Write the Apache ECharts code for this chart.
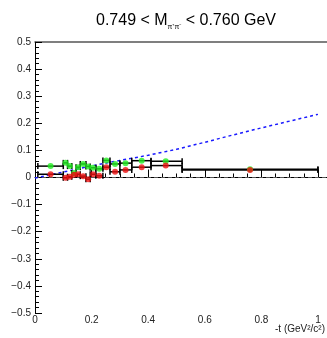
<!DOCTYPE html>
<html><head><meta charset="utf-8">
<script src="https://cdn.jsdelivr.net/npm/echarts/dist/echarts.min.js"></script>
<style>html,body{margin:0;padding:0;background:#fff}#c{width:327px;height:338px}</style>
</head><body><div id="c"></div>
<script>
// bins of -t
const binLo = [0.01, 0.1, 0.115, 0.13, 0.145, 0.16, 0.18, 0.195, 0.215, 0.24, 0.265, 0.3, 0.342, 0.41, 0.52];
const binHi = [0.1, 0.115, 0.13, 0.145, 0.16, 0.18, 0.195, 0.215, 0.24, 0.265, 0.3, 0.342, 0.41, 0.52, 1.0];
const tCenter = [0.055, 0.108, 0.123, 0.138, 0.152, 0.17, 0.188, 0.205, 0.227, 0.252, 0.283, 0.32, 0.377, 0.462, 0.76];
const greenVals = [0.042, 0.054, 0.042, 0.017, 0.038, 0.05, 0.041, 0.036, 0.032, 0.063, 0.05, 0.053, 0.062, 0.06, 0.03];
const redVals = [0.012, -0.001, 0.003, 0.01, 0.012, 0.005, -0.006, 0.012, 0.006, 0.038, 0.021, 0.028, 0.038, 0.044, 0.028];
// model curve (blue dashed)
const curveT = [0, 0.1, 0.2, 0.3, 0.4, 0.5, 0.6, 0.7, 0.8, 0.9, 1.0];
const curveV = [-0.002, 0.02, 0.043, 0.063, 0.082, 0.104, 0.13, 0.157, 0.183, 0.208, 0.233];
const xTicks = [0, 0.2, 0.4, 0.6, 0.8, 1];
const yTicks = [-0.5, -0.4, -0.3, -0.2, -0.1, 0, 0.1, 0.2, 0.3, 0.4, 0.5];
const xMin = 0, xMax = 1.032, yMin = -0.5, yMax = 0.5;

const chart = echarts.init(document.getElementById('c'), null, {renderer: 'canvas'});
const font = 'Liberation Sans, Arial, sans-serif';

function errData(vals) {
  return vals.map((v, i) => [binLo[i], binHi[i], v]);
}
function renderErr(params, api) {
  const a = api.coord([api.value(0), api.value(2)]);
  const b = api.coord([api.value(1), api.value(2)]);
  const st = {stroke: '#000', lineWidth: 1.5};
  return {type: 'group', children: [
    {type: 'line', shape: {x1: a[0], y1: a[1], x2: b[0], y2: b[1]}, style: st},
    {type: 'line', shape: {x1: a[0], y1: a[1] - 3, x2: a[0], y2: a[1] + 3}, style: st},
    {type: 'line', shape: {x1: b[0], y1: b[1] - 3, x2: b[0], y2: b[1] + 3}, style: st}
  ]};
}

const fmt = v => {
  const r = Math.round(v * 10) / 10;
  if (Math.abs(r) < 1e-9) return '0';
  return (r < 0 ? '\u2212' : '') + String(Math.abs(r));
};

chart.setOption({
  animation: false,
  title: {
    text: '0.749 < M{sub|\u03c0\u207a\u03c0\u207b} < 0.760 GeV',
    left: 181, top: 6, textAlign: 'center',
    textStyle: {fontFamily: font, fontSize: 16, fontWeight: 'normal', color: '#000',
      rich: {sub: {fontFamily: font, fontSize: 7, color: '#000', padding: [13, 0, 0, 0]}}}
  },
  grid: {left: 35, top: 42, right: 0, bottom: 25},
  xAxis: [{
    type: 'value', min: xMin, max: xMax, interval: 0.2,
    axisLine: {lineStyle: {color: '#000', width: 1}},
    axisTick: {inside: true, length: 8, lineStyle: {color: '#000'}},
    minorTick: {show: true, splitNumber: 4, length: 4, lineStyle: {color: '#000'}},
    splitLine: {show: false},
    axisLabel: {showMaxLabel: false, margin: 2, fontFamily: font, fontSize: 10, color: '#222',
      formatter: v => xTicks.some(t => Math.abs(t - v) < 1e-6) ? String(Math.round(v * 10) / 10) : ''}
  }, {
    type: 'value', min: xMin, max: xMax, position: 'top',
    axisLine: {show: true, lineStyle: {color: '#555', width: 1.5}},
    axisTick: {show: false}, axisLabel: {show: false}, splitLine: {show: false}
  }],
  yAxis: {
    type: 'value', min: yMin, max: yMax, interval: 0.1,
    axisLine: {show: true, lineStyle: {color: '#000', width: 1}},
    axisTick: {inside: true, length: 7, lineStyle: {color: '#000'}},
    minorTick: {show: true, splitNumber: 5, length: 4, lineStyle: {color: '#000'}},
    splitLine: {show: false},
    axisLabel: {margin: 4, fontFamily: font, fontSize: 10, color: '#222',
      formatter: v => yTicks.some(t => Math.abs(t - v) < 1e-6) ? fmt(v) : ''}
  },
  graphic: [{
    type: 'text', right: 2, top: 324,
    style: {text: '-t (GeV\u00b2/c\u00b2)', font: '10px ' + font, fill: '#222'}
  }],
  series: [
    {type: 'line', data: [[xMin, 0], [xMax, 0]], symbol: 'none', silent: true,
      lineStyle: {color: '#555', width: 1, type: [4, 3]}, z: 1},
    {type: 'line', data: curveT.map((t, i) => [t, curveV[i]]), symbol: 'none', smooth: false,
      lineStyle: {color: '#1a1aff', width: 1.5, type: [3, 3]}, z: 2},
    {type: 'custom', data: errData(greenVals), renderItem: renderErr, z: 3},
    {type: 'custom', data: errData(redVals), renderItem: renderErr, z: 3},
    {type: 'scatter', data: tCenter.map((t, i) => [t, greenVals[i]]), symbol: 'circle', symbolSize: 6,
      itemStyle: {color: '#22ee22'}, z: 5},
    {type: 'scatter', data: tCenter.map((t, i) => [t, redVals[i]]), symbol: 'circle', symbolSize: 6,
      itemStyle: {color: '#ee1111'}, z: 6}
  ]
});
</script></body></html>
